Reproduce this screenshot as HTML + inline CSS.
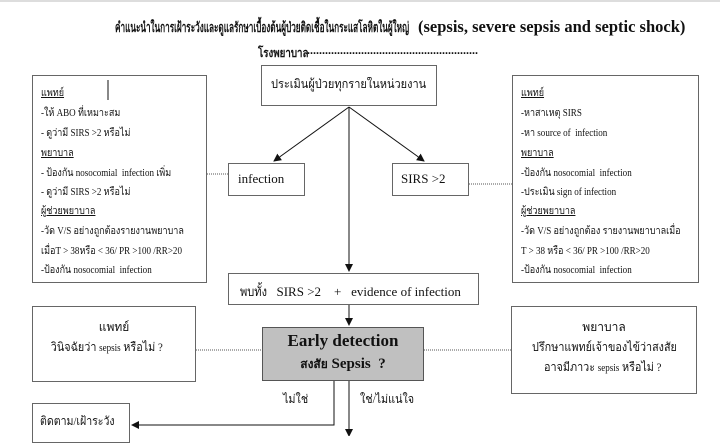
<!DOCTYPE html>
<html><head><meta charset="utf-8"><style>
body{margin:0;width:720px;height:436px;overflow:hidden;background:#fff;position:relative;font-family:"Liberation Serif","Noto Serif CJK SC",serif;color:#111}
.b{position:absolute;border:1px solid #666;background:#fff;box-sizing:border-box}
.t{position:absolute;white-space:nowrap;transform-origin:0 0}
.l{position:absolute;font-size:10.5px;white-space:nowrap;transform:scaleX(0.86);transform-origin:0 0}
u{text-decoration:underline}
svg{position:absolute;left:0;top:0}
</style></head><body>
<div style="position:absolute;left:0;top:0;width:720px;height:2px;background:#ddd"></div>
<div class="t" style="left:115px;top:17px;font-size:14px;font-weight:bold;transform:scaleX(0.585)">คำแนะนำในการเฝ้าระวังและดูแลรักษาเบื้องต้นผู้ป่วยติดเชื้อในกระแสโลหิตในผู้ใหญ่</div>
<div class="t" style="left:418px;top:17px;font-size:16.5px;font-weight:bold">(sepsis, severe sepsis and septic shock)</div>
<div class="t" style="left:258px;top:43px;font-size:12.5px;font-weight:bold;transform:scaleX(0.78)">โรงพยาบาล</div>
<div class="t" style="left:307px;top:43px;font-size:12px;font-weight:bold">.........................................................</div>

<div class="b" style="left:261px;top:65px;width:176px;height:41px"></div>
<div class="t" style="left:271px;top:74px;font-size:12.5px;transform:scaleX(0.88)">ประเมินผู้ป่วยทุกรายในหน่วยงาน</div>

<div class="b" style="left:32px;top:75px;width:175px;height:208px"></div>
<div class="l" style="left:41px;top:84px"><u>แพทย์</u></div>
<div class="l" style="left:41px;top:104px">-ให้ ABO ที่เหมาะสม</div>
<div class="l" style="left:41px;top:124px">- ดูว่ามี SIRS &gt;2 หรือไม่</div>
<div class="l" style="left:41px;top:144px"><u>พยาบาล</u></div>
<div class="l" style="left:41px;top:164px">- ป้องกัน nosocomial&nbsp; infection เพิ่ม</div>
<div class="l" style="left:41px;top:183px">- ดูว่ามี SIRS &gt;2 หรือไม่</div>
<div class="l" style="left:41px;top:202px"><u>ผู้ช่วยพยาบาล</u></div>
<div class="l" style="left:41px;top:222px">-วัด V/S อย่างถูกต้องรายงานพยาบาล</div>
<div class="l" style="left:41px;top:242px">เมื่อT &gt; 38หรือ &lt; 36/ PR &gt;100 /RR&gt;20</div>
<div class="l" style="left:41px;top:261px">-ป้องกัน nosocomial&nbsp; infection</div>

<div class="b" style="left:512px;top:75px;width:187px;height:208px"></div>
<div class="l" style="left:521px;top:84px"><u>แพทย์</u></div>
<div class="l" style="left:521px;top:104px">-หาสาเหตุ SIRS</div>
<div class="l" style="left:521px;top:124px">-หา source of&nbsp; infection</div>
<div class="l" style="left:521px;top:144px"><u>พยาบาล</u></div>
<div class="l" style="left:521px;top:164px">-ป้องกัน nosocomial&nbsp; infection</div>
<div class="l" style="left:521px;top:183px">-ประเมิน sign of infection</div>
<div class="l" style="left:521px;top:202px"><u>ผู้ช่วยพยาบาล</u></div>
<div class="l" style="left:521px;top:222px">-วัด V/S อย่างถูกต้อง รายงานพยาบาลเมื่อ</div>
<div class="l" style="left:521px;top:242px">T &gt; 38 หรือ &lt; 36/ PR &gt;100 /RR&gt;20</div>
<div class="l" style="left:521px;top:261px">-ป้องกัน nosocomial&nbsp; infection</div>

<div class="b" style="left:228px;top:163px;width:77px;height:33px"></div>
<div class="t" style="left:238px;top:171px;font-size:13px">infection</div>
<div class="b" style="left:392px;top:163px;width:77px;height:33px"></div>
<div class="t" style="left:401px;top:171px;font-size:13px">SIRS &gt;2</div>

<div class="b" style="left:228px;top:273px;width:251px;height:32px"></div>
<div class="t" style="left:240px;top:281px;font-size:13px"><span style="display:inline-block;transform:scaleX(0.85);transform-origin:0 0;margin-right:-5px">พบทั้ง</span>&nbsp;&nbsp; SIRS &gt;2&nbsp;&nbsp;&nbsp; +&nbsp;&nbsp; evidence of infection</div>

<div class="b" style="left:32px;top:306px;width:164px;height:76px"></div>
<div class="t" style="left:32px;width:164px;text-align:center;top:318px;font-size:12px">แพทย์</div>
<div class="t" style="left:40px;top:338px;font-size:12px;transform:scaleX(0.9)">&nbsp;&nbsp;&nbsp;&nbsp;วินิจฉัยว่า <span style="font-size:10px">sepsis</span> หรือไม่ ?</div>

<div class="b" style="left:262px;top:327px;width:162px;height:54px;background:#c0c0c0;border-color:#555"></div>
<div class="t" style="left:262px;width:162px;text-align:center;top:331px;font-size:17px;font-weight:bold">Early detection</div>
<div class="t" style="left:262px;width:162px;text-align:center;top:355px;font-size:15px;font-weight:bold"><span style="font-size:12px">สงสัย</span> Sepsis&nbsp; ?</div>

<div class="b" style="left:511px;top:306px;width:186px;height:88px"></div>
<div class="t" style="left:511px;width:186px;text-align:center;top:318px;font-size:12px">พยาบาล</div>
<div class="t" style="left:532px;top:338px;font-size:12px;transform:scaleX(0.9)">ปรึกษาแพทย์เจ้าของไข้ว่าสงสัย</div>
<div class="t" style="left:544px;top:358px;font-size:12px;transform:scaleX(0.9)">อาจมีภาวะ <span style="font-size:10px">sepsis</span> หรือไม่ ?</div>

<div class="t" style="left:283px;top:390px;font-size:12px;transform:scaleX(0.9)">ไม่ใช่</div>
<div class="t" style="left:360px;top:390px;font-size:12px;transform:scaleX(0.9)">ใช่/ไม่แน่ใจ</div>

<div class="b" style="left:32px;top:403px;width:98px;height:40px"></div>
<div class="t" style="left:40px;top:412px;font-size:12px;transform:scaleX(0.88)">ติดตาม/เฝ้าระวัง</div>

<svg width="720" height="436">
<defs><marker id="a" markerWidth="8" markerHeight="8" refX="7" refY="4" orient="auto" markerUnits="userSpaceOnUse"><path d="M0,0 L8,4 L0,8 z" fill="#111"/></marker></defs>
<g stroke="#111" stroke-width="1" fill="none">
<line x1="108" y1="80" x2="108" y2="100"/>
<line x1="349" y1="107" x2="274" y2="161" marker-end="url(#a)"/>
<line x1="349" y1="107" x2="424" y2="161" marker-end="url(#a)"/>
<line x1="349" y1="107" x2="349" y2="271" marker-end="url(#a)"/>
<line x1="349" y1="305" x2="349" y2="325" marker-end="url(#a)"/>
<line x1="349" y1="381" x2="349" y2="436" marker-end="url(#a)"/>
<polyline points="334,381 334,425 132,425" marker-end="url(#a)"/>
</g>
<g stroke="#555" stroke-width="1" stroke-dasharray="1,1">
<line x1="207" y1="174" x2="228" y2="174"/>
<line x1="469" y1="184" x2="512" y2="184"/>
<line x1="196" y1="350" x2="262" y2="350"/>
<line x1="424" y1="350" x2="511" y2="350"/>
</g>
</svg>
</body></html>
